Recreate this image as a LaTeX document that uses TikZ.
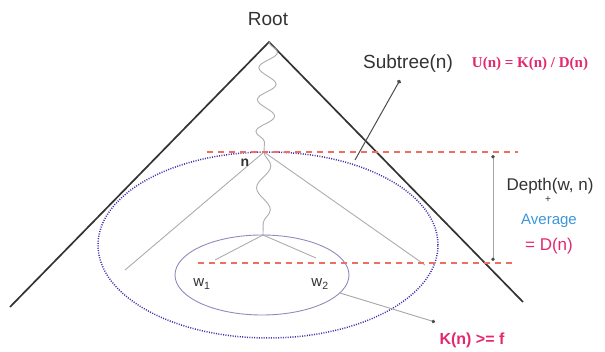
\documentclass[tikz,border=0pt]{standalone}
\usepackage{fontspec}
\setmainfont{Liberation Sans}
\newfontfamily\grassetto{Liberation Serif}
\usetikzlibrary{decorations.pathmorphing,arrows.meta}
\definecolor{rosso}{RGB}{228,40,110}
\definecolor{azzurro}{RGB}{60,150,220}
\definecolor{viola}{RGB}{60,50,170}
\definecolor{lilla}{RGB}{140,140,190}
\definecolor{salmone}{RGB}{238,110,100}

\begin{document}
\begin{tikzpicture}[x=1pt,y=-1pt,
    lato/.style={line width=1.7pt,black!80},
    ramo/.style={line width=0.9pt,gray!65},
    onda/.style={ramo,decorate,decoration={snake,segment length=32pt,amplitude=9pt}},
    soglia/.style={line width=1.3pt,salmone,dash pattern=on 6pt off 5pt},
    puntino/.style={line width=1pt,black!70,{Circle[length=4pt]}-},
    etichetta/.style={font=\fontsize{17}{17}\selectfont,text=black!80,inner sep=0pt}]

  \useasboundingbox (0,0) rectangle (605,352);

  % ---- albero: radice e lati ------------------------------------------------
  \coordinate (apice) at (269,42);
  \coordinate (sx) at (10,307);
  \coordinate (dx) at (523,302);
  \draw[lato] (sx) -- (apice) -- (dx);
  \node[etichetta,font=\fontsize{19}{19}\selectfont] (root) at (268,19) {Root};

  % ---- cammino fino a n e sottoalbero ----------------------------------------
  \coordinate (n) at (264,152);
  \coordinate (bivio) at (263,235);
  \coordinate (nsx) at (125,270);
  \coordinate (ndx) at (425,265);
  \coordinate (w1) at (215,260);
  \coordinate (w2) at (316,258);
  \draw[onda] (apice) -- (n);
  \draw[ramo,decorate,decoration={snake,segment length=44pt,amplitude=7pt}] (n) -- (bivio);
  \draw[ramo] (nsx) -- (n) -- (ndx);
  \draw[ramo] (w1) -- (bivio) -- (w2);
  \node[etichetta,font=\fontsize{14}{14}\selectfont\bfseries] (nlab) at (245,163) {n};

  % ---- ellissi ---------------------------------------------------------------
  \draw[viola,line width=1.5pt,dash pattern=on 1pt off 1.4pt]
    (268,245) ellipse[x radius=170pt,y radius=93pt];
  \draw[lilla,line width=0.9pt] (262,275) ellipse[x radius=87pt,y radius=40pt];
  \node[etichetta,font=\fontsize{15}{15}\selectfont] (w1lab) at (202,284) {w\textsubscript{1}};
  \node[etichetta,font=\fontsize{15}{15}\selectfont] (w2lab) at (320,284) {w\textsubscript{2}};

  % ---- livelli e profondita' -------------------------------------------------
  \coordinate (s1a) at (207,152);
  \coordinate (s1b) at (518,152);
  \coordinate (s2a) at (198,263);
  \coordinate (s2b) at (512,263);
  \draw[soglia] (s1a) -- (s1b);
  \draw[soglia] (s2a) -- (s2b);
  \coordinate (d1) at (493,155);
  \coordinate (d2) at (493,261);
  \draw[line width=0.9pt,gray!70,{Circle[length=3.5pt,black!70]}-{Circle[length=3.5pt,black!70]}] (d1) -- (d2);

  \node[etichetta] (depth) at (550,186) {Depth(w, n)};
  \node[etichetta,font=\fontsize{10}{10}\selectfont] (piu) at (548,200) {+};
  \node[etichetta,text=azzurro,font=\fontsize{15}{15}\selectfont] (avg) at (549,221) {Average};
  \node[etichetta,text=rosso] (dn) at (549,246) {= D(n)};

  % ---- didascalie --------------------------------------------------------------
  \node[etichetta,font=\fontsize{19}{19}\selectfont] (subtree) at (408,64) {Subtree(n)};
  \node[etichetta,text=rosso,font=\fontsize{15}{15}\grassetto\bfseries] (un) at (530,64)
    {U(n) = K(n) / D(n)};
  \coordinate (st1) at (400,80);
  \coordinate (st2) at (355,160);
  \draw[puntino] (st1) -- (st2);

  \coordinate (k1) at (340,293);
  \coordinate (k2) at (435,322);
  \draw[line width=0.9pt,gray!70,-{Circle[length=3.5pt,black!70]}] (k1) -- (k2);
  \node[etichetta,text=rosso,font=\fontsize{16}{16}\selectfont\bfseries] (kn) at (472,340)
    {K(n) >= f};

\end{tikzpicture}
\end{document}
